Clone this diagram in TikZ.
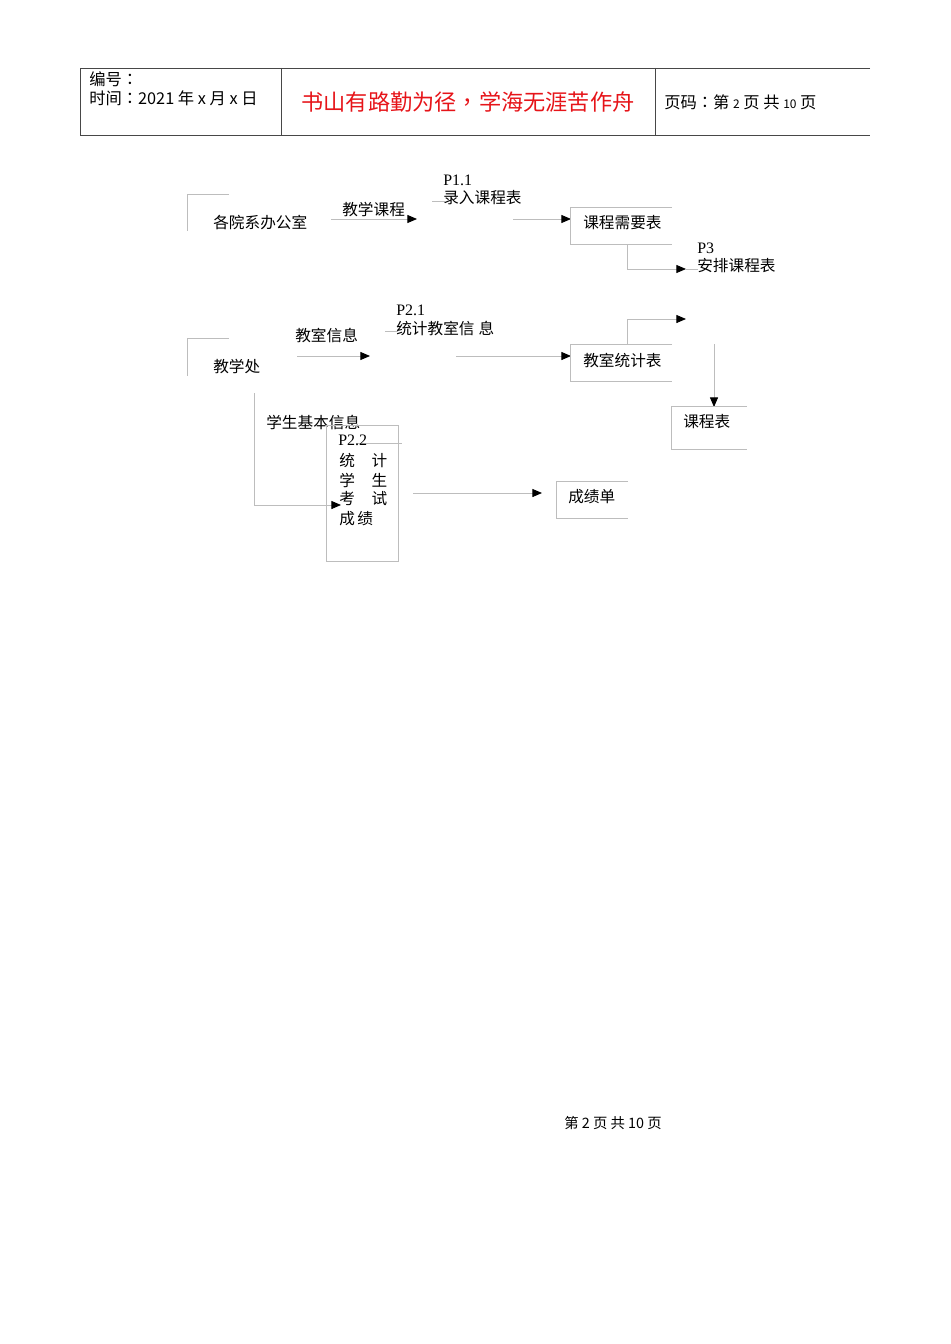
\documentclass[tikz,border=0pt]{standalone}
\usepackage{fontspec}
\setmainfont{Liberation Sans}
\newfontfamily\cjk{Noto Sans CJK SC}
\newfontfamily\cjktc{Noto Sans CJK TC}
\newfontfamily\serifp{Liberation Serif}
\usetikzlibrary{arrows.meta}
\newcommand{\mycolon}{{\cjktc：}}
\newcommand{\mycomma}{{\cjktc，}}
\begin{document}
\begin{tikzpicture}[x=0.6264pt,y=-0.6264pt,
 hline/.style={draw=black!72, line width=0.6pt},
 fl/.style={draw=black!26, line width=0.5pt},
 arr/.style={fl, -{Triangle[length=6pt,width=5pt,color=black]}},
 txt/.style={anchor=west, inner sep=0pt, font=\cjk\fontsize{9.8}{11}\selectfont},
 htxt/.style={anchor=west, inner sep=0pt, font=\cjk\fontsize{10.2}{11}\selectfont},
 ptxt/.style={anchor=west, inner sep=0pt, font=\serifp\fontsize{10}{11}\selectfont},
]
\useasboundingbox (0,0) rectangle (950,1344);
% ---------- header ----------
\coordinate (hTL) at (80,68); \coordinate (hTR) at (870,68);
\coordinate (hBL) at (80,135); \coordinate (hBR) at (870,135);
\draw[hline] (hTR) -- (hTL) -- (hBL) -- (hBR);
\coordinate (d1t) at (281,68); \coordinate (d1b) at (281,135);
\coordinate (d2t) at (655,68); \coordinate (d2b) at (655,135);
\draw[hline] (d1t) -- (d1b);
\draw[hline] (d2t) -- (d2b);
\node[htxt] (bianhao) at (89,79) {编号\mycolon};
\node[htxt] (shijian) at (89,98) {时间\mycolon 2021 年 x 月 x 日};
\node[inner sep=0pt, font=\cjk\fontsize{13.9}{15}\selectfont, text={rgb,255:red,230;green,20;blue,25}] (motto) at (468,102) {书山有路勤为径\mycomma 学海无涯苦作舟};
\node[htxt] (yema) at (664,102) {页码\mycolon 第 {\fontsize{7.5}{9}\selectfont 2} 页 共 {\fontsize{7.5}{9}\selectfont 10} 页};
% ---------- row 1 ----------
\coordinate (o1a) at (229,194); \coordinate (o1b) at (187,194); \coordinate (o1c) at (187,231);
\draw[fl] (o1a) -- (o1b) -- (o1c);
\node[txt] (office) at (213,223) {各院系办公室};
\node[txt] (lbl1) at (342,210) {教学课程};
\coordinate (a1s) at (331,219); \coordinate (a1e) at (417,219);
\draw[arr] (a1s) -- (a1e);
\node[ptxt] (p11) at (443,180) {P1.1};
\coordinate (p11l) at (432,201); \coordinate (p11r) at (445,201);
\draw[fl] (p11l) -- (p11r);
\node[txt] (p11t) at (443,198) {录入课程表};
\coordinate (a2s) at (513,219); \coordinate (a2e) at (571,219);
\draw[arr] (a2s) -- (a2e);
\coordinate (k1a) at (672,207); \coordinate (k1b) at (570,207); \coordinate (k1c) at (570,244); \coordinate (k1d) at (672,244);
\draw[fl] (k1a) -- (k1b) -- (k1c) -- (k1d);
\node[txt] (kcxyb) at (583,223) {课程需要表};
\coordinate (a3s) at (627,244); \coordinate (a3m) at (627,269); \coordinate (a3e) at (686,269); \coordinate (a3x) at (698,269);
\draw[fl] (a3e) -- (a3x);
\draw[arr] (a3s) -- (a3m) -- (a3e);
\node[ptxt] (p3) at (697,248) {P3};
\node[txt] (p3t) at (697,266) {安排课程表};
% ---------- row 2 ----------
\coordinate (o2a) at (229,338); \coordinate (o2b) at (187,338); \coordinate (o2c) at (187,376);
\draw[fl] (o2a) -- (o2b) -- (o2c);
\node[txt] (jxc) at (213,367) {教学处};
\node[txt] (lbl2) at (295,335) {教室信息};
\coordinate (a4s) at (297,356); \coordinate (a4e) at (370,356);
\draw[arr] (a4s) -- (a4e);
\node[ptxt] (p21) at (396,310) {P2.1};
\coordinate (p21l) at (385,331); \coordinate (p21r) at (398,331);
\draw[fl] (p21l) -- (p21r);
\node[txt] (p21t) at (396,328) {统计教室信\hspace{2.5pt}息};
\coordinate (a5s) at (456,356); \coordinate (a5e) at (571,356);
\draw[arr] (a5s) -- (a5e);
\coordinate (k2a) at (672,344); \coordinate (k2b) at (570,344); \coordinate (k2c) at (570,381); \coordinate (k2d) at (672,381);
\draw[fl] (k2a) -- (k2b) -- (k2c) -- (k2d);
\node[txt] (jstjb) at (583,360) {教室统计表};
\coordinate (a6s) at (627,344); \coordinate (a6m) at (627,319); \coordinate (a6e) at (686,319);
\draw[arr] (a6s) -- (a6m) -- (a6e);
\coordinate (a7s) at (714,344); \coordinate (a7e) at (714,407);
\draw[arr] (a7s) -- (a7e);
\coordinate (k3a) at (747,406); \coordinate (k3b) at (671,406); \coordinate (k3c) at (671,449); \coordinate (k3d) at (747,449);
\draw[fl] (k3a) -- (k3b) -- (k3c) -- (k3d);
\node[txt] (kcb) at (683,422) {课程表};
% ---------- row 3 ----------
\coordinate (a8s) at (254,393); \coordinate (a8m) at (254,505); \coordinate (a8e) at (341,505);
\draw[arr] (a8s) -- (a8m) -- (a8e);
\node[txt] (lbl3) at (266,422) {学生基本信息};
\coordinate (p22a) at (326,425); \coordinate (p22b) at (398,561);
\draw[fl] (p22a) rectangle (p22b);
\coordinate (p22l) at (356,443); \coordinate (p22r) at (402,443);
\draw[fl] (p22l) -- (p22r);
\node[ptxt] (p22) at (338,440) {P2.2};
\node[txt] (p22t1) at (339,461) {统\hspace{10.5pt}计};
\node[txt] (p22t2) at (339,480) {学\hspace{10.5pt}生};
\node[txt] (p22t3) at (339,499) {考\hspace{10.5pt}试};
\node[txt] (p22t4) at (339,519) {成\hspace{1.5pt}绩};
\coordinate (a9s) at (413,493); \coordinate (a9e) at (542,493);
\draw[arr] (a9s) -- (a9e);
\coordinate (k4a) at (628,481); \coordinate (k4b) at (556,481); \coordinate (k4c) at (556,518); \coordinate (k4d) at (628,518);
\draw[fl] (k4a) -- (k4b) -- (k4c) -- (k4d);
\node[txt] (cjd) at (568,497) {成绩单};
% ---------- footer ----------
\node[inner sep=0pt, font=\cjk\fontsize{9}{10}\selectfont] (footer) at (613,1123) {第 2 页 共 10 页};
\end{tikzpicture}
\end{document}
